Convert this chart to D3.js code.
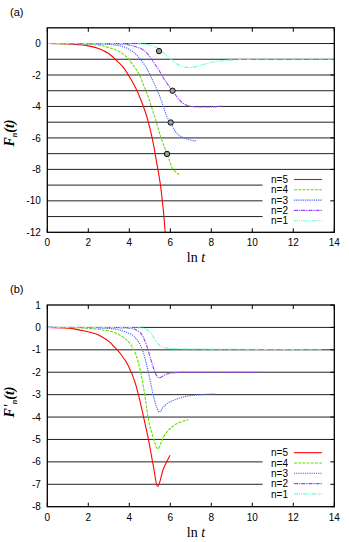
<!DOCTYPE html>
<html>
<head>
<meta charset="utf-8">
<script src="https://cdn.jsdelivr.net/npm/d3@7"></script>
<style>
  body { margin: 0; background: #fff; }
  svg { display: block; }
  .tick-label { font-family: "Liberation Sans", Arial, sans-serif; font-size: 10px; fill: #000; }
  .axis-title { font-family: "Liberation Serif", "Times New Roman", serif; font-size: 14px; fill: #000; }
</style>
</head>
<body>
<svg id="chart" width="349" height="542"></svg>
<script>
// series labels and styles, top to bottom in the legend
const seriesNames = ["n=5", "n=4", "n=3", "n=2", "n=1"];
const seriesColors = ["#ff0000", "#66e000", "#3f66ff", "#9944ff", "#66ffcc"];
const seriesDash = [null, "3,1.2", "1.2,1", "4,1,1.2,1", "4,1,1,1,1,1"];

// panel (a): F_n(t) vs ln t
const a_n5 = [[0,0],[1,-0.02],[1.5,-0.07],[2,-0.15],[2.5,-0.32],[3,-0.65],[3.4,-1.1],[3.7,-1.5],[4.0,-2.1],[4.3,-2.8],[4.6,-3.7],[4.9,-4.85],[5.14,-6.15],[5.34,-7.6],[5.53,-9.1],[5.66,-10.6],[5.76,-12.1],[5.8,-12.6]];
const a_n4 = [[0,0],[1,-0.01],[2,-0.04],[2.5,-0.1],[3,-0.25],[3.5,-0.5],[3.9,-0.9],[4.2,-1.4],[4.5,-2.0],[4.7,-2.65],[4.9,-3.3],[5.1,-4.1],[5.3,-4.9],[5.5,-5.8],[5.66,-6.4],[5.85,-7.0],[6.07,-7.85],[6.25,-8.15],[6.42,-8.33]];
const a_n3 = [[0,0],[2,-0.01],[3,-0.06],[3.7,-0.2],[4.0,-0.38],[4.36,-0.73],[4.6,-1.1],[4.85,-1.58],[5.05,-2.1],[5.25,-2.64],[5.42,-3.15],[5.58,-3.7],[5.72,-4.25],[5.85,-4.7],[6.02,-5.02],[6.2,-5.5],[6.39,-5.78],[6.63,-5.97],[6.9,-6.1],[7.25,-6.2]];
const a_n2 = [[0,0],[3,-0.01],[3.7,-0.04],[4.03,-0.1],[4.35,-0.22],[4.68,-0.41],[4.95,-0.75],[5.17,-1.16],[5.4,-1.6],[5.58,-2.0],[5.75,-2.35],[5.9,-2.64],[6.11,-3.0],[6.39,-3.5],[6.6,-3.78],[6.8,-3.92],[7.29,-4.03],[7.94,-4.03],[8.5,-3.98]];
const a_n1 = [[0,0],[4,-0.01],[4.68,-0.03],[5.0,-0.1],[5.33,-0.25],[5.5,-0.4],[5.75,-0.7],[5.98,-0.94],[6.23,-1.22],[6.47,-1.4],[6.72,-1.5],[6.96,-1.52],[7.3,-1.45],[7.69,-1.3],[8.1,-1.17],[8.67,-1.07],[9.48,-1.02],[10.5,-1.0],[12,-1.0],[14,-1.0]];
const a_marks = [[5.45,-0.48],[6.11,-3.0],[6.02,-5.02],[5.84,-7.02]];

// panel (b): F'_n(t) vs ln t
const b_n5 = [[0,0],[1,-0.03],[1.76,-0.15],[2.57,-0.37],[3.06,-0.67],[3.22,-0.82],[3.55,-1.15],[3.95,-1.71],[4.28,-2.45],[4.5,-3.2],[4.68,-3.94],[4.93,-4.98],[5.17,-6.17],[5.38,-7.1],[5.66,-6.32],[5.99,-5.7]];
const b_n4 = [[0,0],[1,-0.01],[2,-0.04],[2.6,-0.1],[3.06,-0.17],[3.7,-0.44],[4.11,-0.82],[4.44,-1.56],[4.68,-2.6],[4.8,-3.3],[4.93,-4.09],[5.14,-4.83],[5.39,-5.42],[5.66,-4.9],[6.15,-4.39],[6.5,-4.22],[6.88,-4.12]];
const b_n3 = [[0,0],[2,-0.01],[3.06,-0.05],[3.87,-0.22],[4.35,-0.52],[4.68,-1.11],[4.93,-2.0],[5.14,-2.9],[5.34,-3.57],[5.46,-3.78],[5.66,-3.55],[5.82,-3.42],[6.3,-3.2],[6.96,-3.05],[8.2,-2.97]];
const b_n2 = [[0,0],[3,-0.01],[4.0,-0.03],[4.52,-0.22],[4.85,-0.82],[5.09,-1.56],[5.34,-2.16],[5.46,-2.25],[5.82,-2.08],[6.63,-2.0],[8,-2.0],[10.5,-2.0]];
const b_n1 = [[0,0],[4,-0.01],[4.68,-0.03],[5.09,-0.3],[5.34,-0.67],[5.66,-0.89],[6.3,-0.95],[8,-0.97],[10,-0.98],[13.4,-1.0]];

const xTicks = [0, 2, 4, 6, 8, 10, 12, 14];
const a_yTicks = [0, -2, -4, -6, -8, -10, -12];
const b_yTicks = [1, 0, -1, -2, -3, -4, -5, -6, -7, -8];

const svg = d3.select("#chart");
const left = 47.3, right = 334.3;

const drawPanel = (cfg) => {
    const x = d3.scaleLinear().domain([0, 14]).range([left, right]);
    const y = d3.scaleLinear().domain(cfg.yDomain).range([cfg.bottom, cfg.top]);
    const g = svg.append("g");

    // horizontal lines at every integer, cut short behind the legend
    const grid = d3.range(Math.ceil(cfg.yDomain[0]) + 1, Math.floor(cfg.yDomain[1]));
    g.selectAll(".grid").data(grid).enter()
        .append("line")
        .attr("x1", x(0))
        .attr("x2", d => d <= cfg.legendTopValue ? x(10.5) : x(14))
        .attr("y1", d => y(d)).attr("y2", d => y(d))
        .attr("stroke", "#222").attr("stroke-width", 1);

    // curves
    g.append("clipPath").attr("id", cfg.id + "clip")
        .append("rect")
        .attr("x", left).attr("y", cfg.top)
        .attr("width", right - left).attr("height", cfg.bottom - cfg.top);

    const line = d3.line().x(d => x(d[0])).y(d => y(d[1])).curve(d3.curveMonotoneX);
    g.append("g").attr("clip-path", `url(#${cfg.id}clip)`)
        .selectAll("path").data(cfg.series).enter()
        .append("path")
        .attr("d", d => line(d))
        .attr("fill", "none")
        .attr("stroke", (d, i) => seriesColors[i])
        .attr("stroke-width", 1.1)
        .attr("stroke-dasharray", (d, i) => seriesDash[i]);

    // marked points
    g.selectAll(".mark").data(cfg.marks || []).enter()
        .append("circle")
        .attr("cx", d => x(d[0])).attr("cy", d => y(d[1]))
        .attr("r", 2.7)
        .attr("fill", "#999").attr("stroke", "#111").attr("stroke-width", 1);

    // frame and ticks
    g.append("rect")
        .attr("x", left).attr("y", cfg.top)
        .attr("width", right - left).attr("height", cfg.bottom - cfg.top)
        .attr("fill", "none").attr("stroke", "#000").attr("stroke-width", 1.3);

    g.selectAll(".xtb").data(xTicks).enter()
        .append("line")
        .attr("x1", d => x(d)).attr("x2", d => x(d))
        .attr("y1", cfg.bottom).attr("y2", cfg.bottom - 4)
        .attr("stroke", "#000");
    g.selectAll(".xtt").data(xTicks).enter()
        .append("line")
        .attr("x1", d => x(d)).attr("x2", d => x(d))
        .attr("y1", cfg.top).attr("y2", cfg.top + 4)
        .attr("stroke", "#000");
    g.selectAll(".ytr").data(cfg.yTicks).enter()
        .append("line")
        .attr("x1", right).attr("x2", right - 4)
        .attr("y1", d => y(d)).attr("y2", d => y(d))
        .attr("stroke", "#000");

    g.selectAll(".xl").data(xTicks).enter()
        .append("text").attr("class", "tick-label")
        .attr("x", d => x(d)).attr("y", cfg.bottom + 14)
        .attr("text-anchor", "middle")
        .text(d => d);
    g.selectAll(".yl").data(cfg.yTicks).enter()
        .append("text").attr("class", "tick-label")
        .attr("x", left - 6.5).attr("y", d => y(d) + 3.6)
        .attr("text-anchor", "end")
        .text(d => d);

    // axis titles
    const xt = g.append("text").attr("class", "axis-title")
        .attr("x", 196).attr("y", cfg.bottom + 30)
        .attr("text-anchor", "middle");
    xt.append("tspan").text("ln ");
    xt.append("tspan").attr("font-style", "italic").text("t");

    const yt = g.append("text").attr("class", "axis-title")
        .attr("transform", `translate(14,${cfg.yTitleY}) rotate(-90)`)
        .attr("text-anchor", "middle")
        .attr("font-style", "italic").attr("font-weight", "bold")
        .attr("font-size", 14);
    yt.append("tspan").text(cfg.yName);
    yt.append("tspan").attr("font-size", 8).attr("dy", 3).text("n");
    yt.append("tspan").attr("dy", -3).text("(t)");

    g.append("text")
        .attr("x", 10).attr("y", cfg.top - 12)
        .attr("font-family", "Liberation Sans, Arial, sans-serif")
        .attr("font-size", 11)
        .text(cfg.label);

    // legend
    const lg = g.selectAll(".lg").data(seriesNames).enter().append("g");
    lg.append("text").attr("class", "tick-label")
        .attr("x", 288).attr("y", (d, i) => cfg.legendY + i * 10.3 + 3.6)
        .attr("text-anchor", "end")
        .text(d => d);
    lg.append("line")
        .attr("x1", 294).attr("x2", 322)
        .attr("y1", (d, i) => cfg.legendY + i * 10.3)
        .attr("y2", (d, i) => cfg.legendY + i * 10.3)
        .attr("stroke", (d, i) => seriesColors[i])
        .attr("stroke-width", 1.1)
        .attr("stroke-dasharray", (d, i) => seriesDash[i]);
};

drawPanel({
    id: "a", label: "(a)", yName: "F", top: 27.8, bottom: 232.3, yDomain: [-12, 1],
    yTicks: a_yTicks, series: [a_n5, a_n4, a_n3, a_n2, a_n1], marks: a_marks,
    legendY: 179.5, legendTopValue: -9, yTitleY: 133
});

drawPanel({
    id: "b", label: "(b)", yName: "F'", top: 305, bottom: 506.7, yDomain: [-8, 1],
    yTicks: b_yTicks, series: [b_n5, b_n4, b_n3, b_n2, b_n1],
    legendY: 452.7, legendTopValue: -6, yTitleY: 402
});
</script>
</body>
</html>
